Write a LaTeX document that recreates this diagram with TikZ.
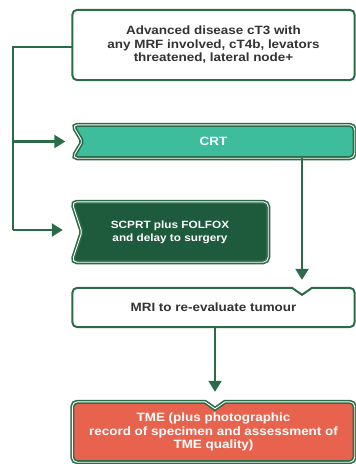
\documentclass[tikz,border=0pt]{standalone}
\usepackage{fontspec}
\setmainfont{Liberation Sans}
\newfontfamily\boxfont[FakeStretch=1.12]{Liberation Sans}
\usetikzlibrary{arrows.meta,backgrounds}
\definecolor{dkg}{HTML}{2B6B48}
\definecolor{teal1}{HTML}{3DBD9B}
\definecolor{fgreen}{HTML}{1E5B3C}
\definecolor{tmered}{HTML}{E8634D}
\definecolor{txtgray}{HTML}{333333}
\begin{document}
\begin{tikzpicture}[x=1pt,y=-1pt,
  boxnode/.style={inner sep=0pt, align=center, font=\boxfont\fontsize{12}{13.5}\selectfont\bfseries},
  smallnode/.style={boxnode, font=\boxfont\fontsize{10.5}{13}\selectfont\bfseries},
  whiteshape/.style={draw=dkg, line width=2pt, fill=white, rounded corners=5pt},
  fillshape/.style={draw=dkg, line width=1.6pt, double=white, double distance=0.9pt, rounded corners=5pt},
  conn/.style={draw=dkg, line width=2.2pt},
  arr/.style={conn, -{Triangle[length=11pt,width=13pt]}}]
\useasboundingbox (0,0) rectangle (356,464);
% nodes
\node[boxnode, text=txtgray, minimum width=282pt, minimum height=70pt] (adv) at (213.5,45)
  {Advanced disease cT3 with\\any MRF involved, cT4b, levators\\threatened, lateral node+};
\node[boxnode, text=white, minimum width=282pt, minimum height=33pt] (crt) at (213.5,141.5) {CRT};
\node[smallnode, text=white, minimum width=196pt, minimum height=60pt] (scp) at (170,232)
  {SCPRT plus FOLFOX\\and delay to surgery};
\node[boxnode, text=txtgray, minimum width=282pt, minimum height=39pt] (mri) at (213.5,307.5) {MRI to re-evaluate tumour};
\node[boxnode, text=white, minimum width=282pt, minimum height=60pt] (tme) at (213.5,432)
  {TME (plus photographic\\record of specimen and assessment of\\TME quality)};
% shapes
\begin{scope}[on background layer]
\draw[whiteshape] (adv.north west) rectangle (adv.south east);
\draw[fillshape, fill=teal1] (crt.north west) -- (crt.north east) -- (crt.south east) -- (crt.south west) [rounded corners=2pt] -- ([xshift=10pt]crt.west) [rounded corners=5pt] -- cycle;
\draw[fillshape, fill=fgreen] (scp.north west) -- (scp.north east) -- (scp.south east) -- (scp.south west) [rounded corners=2pt] -- ([xshift=10pt]scp.west) [rounded corners=5pt] -- cycle;
\coordinate (dx) at (302,0);
\coordinate (mx) at (215,0);
\draw[whiteshape] (mri.north west) [sharp corners] -- ([xshift=-10pt]mri.north -| dx) -- ([yshift=-7pt]mri.north -| dx) -- ([xshift=10pt]mri.north -| dx) [rounded corners=5pt] -- (mri.north east) -- (mri.south east) -- (mri.south west) -- cycle;
\draw[fillshape, fill=tmered] (tme.north west) [sharp corners] -- ([xshift=-10pt]tme.north -| mx) -- ([yshift=-7pt]tme.north -| mx) -- ([xshift=10pt]tme.north -| mx) [rounded corners=5pt] -- (tme.north east) -- (tme.south east) -- (tme.south west) -- cycle;
\end{scope}
% connectors
\coordinate (lx) at (13,0);
\draw[conn] ([yshift=-2pt]adv.west) -- ([yshift=-2pt]adv.west -| lx) -- ([yshift=2pt]scp.west -| lx);
\draw[arr] ([yshift=2pt]scp.west -| lx) -- ([xshift=-9pt,yshift=2pt]scp.west);
\draw[arr] (crt.west -| lx) -- ([xshift=-7pt]crt.west);
\draw[arr] (crt.south -| dx) -- ([yshift=8pt]mri.north -| dx);
\draw[arr] (mri.south -| mx) -- ([yshift=10pt]tme.north -| mx);
\end{tikzpicture}
\end{document}
